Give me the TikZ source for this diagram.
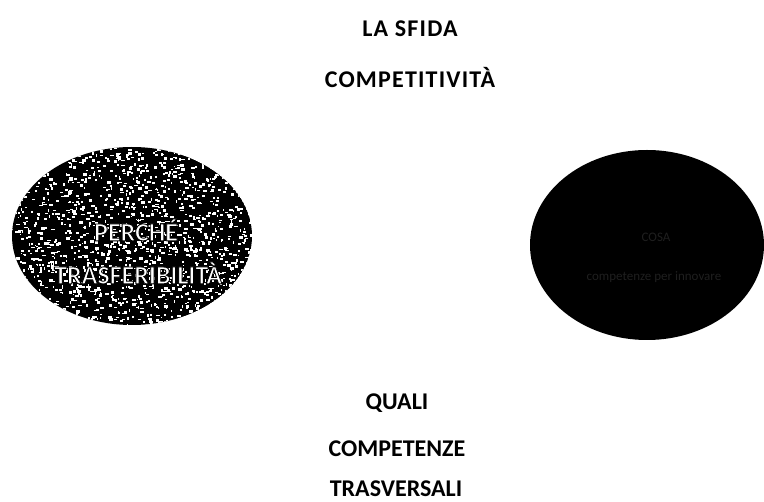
\documentclass[tikz,border=0pt]{standalone}
\usepackage{fontspec}
\setmainfont{Carlito}
\newcommand\outlinedtext[1]{\special{pdf:literal direct 2 Tr 0.9 w 0 0 0 RG}#1\special{pdf:literal direct 0 Tr}}
\begin{document}
\begin{tikzpicture}[x=1pt,y=-1pt,
  title/.style={font=\bfseries\fontsize{24}{24}\selectfont, inner sep=0pt, anchor=center},
  widetitle/.style={title, font=\bfseries\fontsize{24}{24}\selectfont\addfontfeature{LetterSpace=5}},
  intext/.style={font=\bfseries\fontsize{26}{26}\selectfont, inner sep=0pt, text=white},
  darktext/.style={font=\fontsize{13}{13}\selectfont, inner sep=0pt, text=black!88}]
\useasboundingbox (0,0) rectangle (764,502);
% top titles
\node[widetitle] (sfida) at (410,29) {LA SFIDA};
\node[widetitle] (comp) at (410,78) {COMPETITIVITÀ};
% left speckled ellipse
\begin{scope}
  \clip (132,236) ellipse [x radius=120, y radius=89];
  \fill[black] (132,236) ellipse [x radius=120, y radius=89];
  \pgfmathsetseed{4242}
  \foreach \i in {1,...,1600} {
    \pgfmathsetmacro{\px}{132+rand*120}
    \pgfmathsetmacro{\py}{236+rand*89}
    \pgfmathsetmacro{\pw}{1+3*rnd}
    \pgfmathsetmacro{\ph}{1+2*rnd}
    \fill[white] (\px,\py) rectangle ++(\pw,\ph);
  }
\end{scope}
\node[inner sep=0pt] (left) at (132,236) {};
\node[intext] (perche) at (136,230) {\outlinedtext{PERCHÉ}};
\node[intext] (trasf) at (138,273) {\outlinedtext{TRASFERIBILITÀ}};
% right black ellipse
\fill[black] (647,245) ellipse [x radius=117, y radius=95];
\node[inner sep=0pt] (right) at (647,245) {};
\node[darktext] (cosa) at (656,237) {COSA};
\node[darktext] (cosa2) at (654,277) {competenze per innovare};
% bottom texts
\node[title] (quali) at (397,403) {QUALI};
\node[title] (compet) at (397,449) {COMPETENZE};
\node[title] (trasv) at (396,489) {TRASVERSALI};
\end{tikzpicture}
\end{document}
